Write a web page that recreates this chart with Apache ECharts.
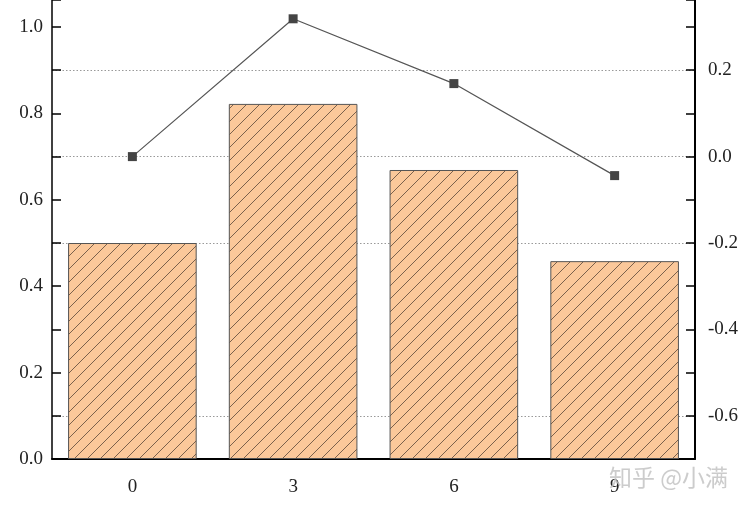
<!DOCTYPE html>
<html>
<head>
<meta charset="utf-8">
<script src="https://cdn.jsdelivr.net/npm/echarts@6/dist/echarts.min.js"></script>
<style>html,body{margin:0;padding:0;background:#fff;}#c{width:746px;height:511px;}</style>
</head>
<body>
<div id="c"></div>
<script>
const categories = ['0', '3', '6', '9'];
const barValues = [0.50, 0.822, 0.669, 0.458];
const lineValues = [0.0, 0.319, 0.169, -0.044];
const leftLabels = [0.0, 0.2, 0.4, 0.6, 0.8, 1.0];
const rightLabels = [-0.6, -0.4, -0.2, 0.0, 0.2];
const gridValues = [0.1, 0.5, 0.7, 0.9];

function hatch() {
  const s = 13;
  const c = document.createElement('canvas');
  c.width = s; c.height = s;
  const g = c.getContext('2d');
  g.fillStyle = '#FBC89A';
  g.fillRect(0, 0, s, s);
  g.strokeStyle = '#5a4638';
  g.lineWidth = 0.8;
  for (const k of [-s, 0, s]) {
    g.beginPath();
    g.moveTo(k, s);
    g.lineTo(k + s, 0);
    g.stroke();
  }
  return c;
}

function fmt(list) {
  return function (v) {
    for (const t of list) if (Math.abs(v - t) < 1e-6) return t.toFixed(1);
    return '';
  };
}

const font = 'Liberation Serif';
const chart = echarts.init(document.getElementById('c'));
chart.setOption({
  animation: false,
  grid: { left: 52, right: 51, top: 0, bottom: 52 },
  xAxis: {
    type: 'category',
    data: categories,
    axisLine: { lineStyle: { color: '#000', width: 2 } },
    axisTick: { alignWithLabel: true, length: 7, lineStyle: { color: '#000', width: 1.5 } },
    axisLabel: { fontFamily: font, fontSize: 19, color: '#222', margin: 19 }
  },
  yAxis: [
    {
      type: 'value', min: 0, max: 1.0625, interval: 0.1,
      axisLine: { show: true, lineStyle: { color: '#000', width: 1.5 } },
      axisTick: { show: true, inside: true, length: 9, lineStyle: { color: '#000', width: 1.5 } },
      axisLabel: { formatter: fmt(leftLabels), fontFamily: font, fontSize: 19, color: '#222', margin: 9 },
      splitLine: { show: false }
    },
    {
      type: 'value', min: -0.7, max: 0.3625, interval: 0.1, position: 'right',
      axisLine: { show: true, lineStyle: { color: '#000', width: 2 } },
      axisTick: { show: true, inside: true, length: 9, lineStyle: { color: '#000', width: 1.5 } },
      axisLabel: { formatter: fmt(rightLabels), fontFamily: font, fontSize: 19, color: '#222', margin: 13 },
      splitLine: { show: false }
    }
  ],
  series: [
    {
      type: 'line', yAxisIndex: 0, data: [], z: 0, silent: true,
      markLine: {
        z: 0, silent: true, symbol: ['none', 'none'], label: { show: false },
        lineStyle: { type: [1.5, 2], color: '#999', width: 1 },
        data: gridValues.map(v => ({ yAxis: v }))
      }
    },
    {
      type: 'bar', yAxisIndex: 0, data: barValues, barWidth: '80%', z: 2,
      itemStyle: { color: { image: hatch(), repeat: 'repeat' }, borderColor: '#555', borderWidth: 1 }
    },
    {
      type: 'line', yAxisIndex: 1, data: lineValues, z: 3,
      symbol: 'rect', symbolSize: 9,
      lineStyle: { color: '#555', width: 1.2 },
      itemStyle: { color: '#444' }
    }
  ],
  graphic: [{
    type: 'text', left: 609, top: 466, z: 100,
    style: { text: '知乎 @小满', fontFamily: 'Noto Sans CJK SC', fontSize: 23, fill: 'rgba(195,195,195,0.85)' }
  }]
});
</script>
</body>
</html>
